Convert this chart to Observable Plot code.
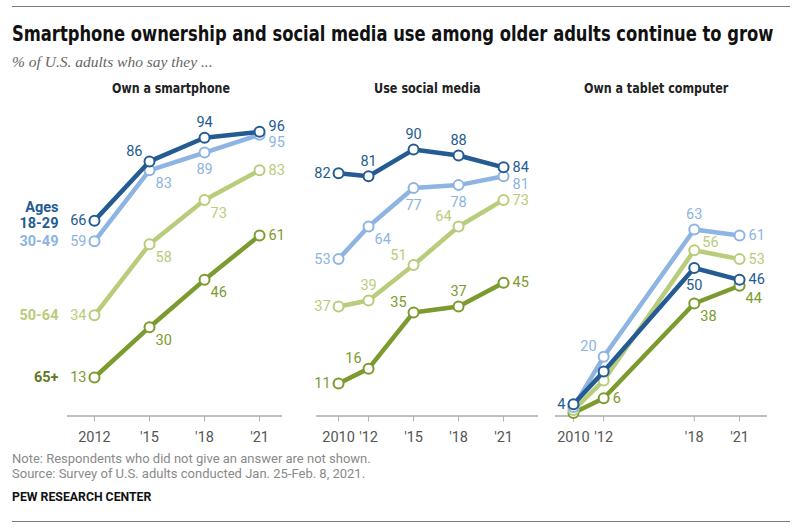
<!DOCTYPE html>
<html><head><meta charset="utf-8">
<script src="https://cdn.jsdelivr.net/npm/d3@7"></script>
<script src="https://cdn.jsdelivr.net/npm/@observablehq/plot@0.6"></script>
<style>
body{margin:0;background:#fff;}
#root{position:relative;width:800px;height:531px;overflow:hidden;font-family:Roboto,"Liberation Sans",sans-serif;background:#fff;}
.abs{position:absolute;white-space:nowrap;line-height:1;transform-origin:0 0;}
.cond{font-family:"DejaVu Sans Condensed",Roboto,sans-serif;font-weight:bold;}
.rule{position:absolute;left:12px;width:778px;height:0;border-top:1.5px solid #7a7a7a;}
.plotbox{position:absolute;top:100px;}
</style></head><body><div id="root">
<div class="rule" style="top:6px"></div>
<div class="abs cond" id="title" style="left:12px;top:24px;font-size:21px;color:#111">Smartphone ownership and social media use among older adults continue to grow</div>
<div class="abs" style="left:12px;top:54px;font-size:15.5px;color:#666;font-style:italic;font-family:'Liberation Serif','DejaVu Serif',serif">% of U.S. adults who say they ...</div>
<div class="abs cond" id="t1" style="top:81px;font-size:14.5px;color:#222">Own a smartphone</div>
<div class="abs cond" id="t2" style="top:81px;font-size:14.5px;color:#222">Use social media</div>
<div class="abs cond" id="t3" style="top:81px;font-size:14.5px;color:#222">Own a tablet computer</div>
<div id="p1" class="plotbox" style="left:0px"></div>
<div id="p2" class="plotbox" style="left:290px"></div>
<div id="p3" class="plotbox" style="left:550px"></div>
<div class="abs" style="left:12px;top:452px;font-size:13px;color:#8a8a8a">Note: Respondents who did not give an answer are not shown.</div>
<div class="abs" style="left:12px;top:467px;font-size:13px;color:#8a8a8a">Source: Survey of U.S. adults conducted Jan. 25-Feb. 8, 2021.</div>
<div class="abs" id="pew" style="left:12px;top:491px;font-size:12px;font-weight:bold;color:#111">PEW RESEARCH CENTER</div>
<div class="rule" style="top:521px"></div>
</div>
<script>
// ---- data ----
const ages = ["18-29", "30-49", "50-64", "65+"];
const ageColors = ["#245b93", "#8db4e2", "#b8cd7a", "#7b9b2e"];
const legendColors = ["#245b93", "#8db4e2", "#b8cd7a", "#5f7a20"];

const smartphoneYears = [2012, 2015, 2018, 2021];
const smartphoneTicks = ["2012", "'15", "'18", "'21"];
const smartphoneValues = [
  [66, 86, 94, 96],
  [59, 83, 89, 95],
  [34, 58, 73, 83],
  [13, 30, 46, 61]
];
const smartphoneLabelPlace = [
  ["L", "AL", "A", "RU"],
  ["L", "BR", "B", "RD"],
  ["L", "BR", "BR", "R"],
  ["L", "BR", "BR", "R"]
];

const socialYears = [2010, 2012, 2015, 2018, 2021];
const socialTicks = ["2010", "'12", "'15", "'18", "'21"];
const socialValues = [
  [82, 81, 90, 88, 84],
  [53, 64, 77, 78, 81],
  [37, 39, 51, 64, 73],
  [11, 16, 35, 37, 45]
];
const socialLabelPlace = [
  ["L", "A", "A", "A", "R"],
  ["L", "BR", "B", "B", "RD"],
  ["L", "A", "AL", "AL", "R"],
  ["L", "AL", "AL", "A", "R"]
];

const tabletYears = [2010, 2012, 2018, 2021];
const tabletTicks = ["2010", "'12", "'18", "'21"];
const tabletValues = [
  [4, 15, 50, 46],
  [3, 20, 63, 61],
  [2, 12, 56, 53],
  [1, 6, 38, 44]
];
const tabletLabelPlace = [
  ["L", "N", "B", "R"],
  ["N", "AL", "A", "R"],
  ["N", "N", "AR", "R"],
  ["N", "R", "BR", "BR"]
];

// ---- label placement styles ----
const placeStyle = {
  L:  {textAnchor: "end",    dx: -8, dy: 0},
  R:  {textAnchor: "start",  dx: 9,  dy: 0},
  RU: {textAnchor: "start",  dx: 9,  dy: -5},
  RD: {textAnchor: "start",  dx: 9,  dy: 8},
  A:  {textAnchor: "middle", dx: 0,  dy: -15},
  B:  {textAnchor: "middle", dx: 0,  dy: 17},
  AL: {textAnchor: "end",    dx: -7, dy: -10},
  AR: {textAnchor: "start",  dx: 8,  dy: -8},
  BR: {textAnchor: "start",  dx: 6,  dy: 13}
};

function buildPanel(el, years, ticks, values, places, opt) {
  const rows = [];
  ages.forEach((age, si) => years.forEach((year, i) => rows.push({age, si, year, value: values[si][i], place: places[si][i]})));
  const tickMap = new Map(years.map((y, i) => [y, ticks[i]]));
  const marks = [
    Plot.ruleY([0], {stroke: "#a8a8a8", strokeWidth: 1.3}),
    Plot.axisX({ticks: years, tickFormat: d => tickMap.get(d), tickSize: 6, tickPadding: 10, label: null,
      stroke: "#b0b0b0", fill: "#555", fontSize: 14.5})
  ];
  for (let si = ages.length - 1; si >= 0; si--) {
    const s = rows.filter(d => d.si === si);
    marks.push(Plot.line(s, {x: "year", y: "value", stroke: ageColors[si], strokeWidth: 4.5, strokeLinejoin: "round", strokeLinecap: "round"}));
    marks.push(Plot.dot(s, {x: "year", y: "value", r: 5, fill: "white", stroke: ageColors[si], strokeWidth: 2}));
  }
  for (let si = 0; si < ages.length; si++) {
    for (const code of Object.keys(placeStyle)) {
      const s = rows.filter(d => d.si === si && d.place === code);
      if (!s.length) continue;
      marks.push(Plot.text(s, {x: "year", y: "value", text: d => String(d.value), fill: ageColors[si],
        fontSize: 14.5, ...placeStyle[code]}));
    }
  }
  if (opt.legend) {
    const first = rows.filter(d => d.year === years[0]);
    first.forEach(d => {
      marks.push(Plot.text([d], {x: "year", y: "value", text: "age", fill: legendColors[d.si],
        fontWeight: "bold", fontSize: 14.5, textAnchor: "end", dx: -36, dy: d.si === 0 ? 3 : 0}));
    });
    marks.push(Plot.text(first.filter(d => d.si === 0), {x: "year", y: "value", text: () => "Ages",
      fill: legendColors[0], fontWeight: "bold", fontSize: 14.5, textAnchor: "end", dx: -36, dy: -13}));
  }
  const svg = Plot.plot({
    width: opt.width, height: 350,
    marginLeft: opt.ml, marginRight: opt.mr, marginTop: 19.5, marginBottom: 34.5,
    x: {domain: opt.xdomain, label: null},
    y: {domain: [0, 100], axis: null},
    style: {fontFamily: "Roboto, sans-serif", overflow: "visible", background: "transparent"},
    marks
  });
  document.getElementById(el).appendChild(svg);
}

buildPanel("p1", smartphoneYears, smartphoneTicks, smartphoneValues, smartphoneLabelPlace,
  {width: 290, ml: 67, mr: 8, xdomain: [2010.53, 2022.25], legend: true});
buildPanel("p2", socialYears, socialTicks, socialValues, socialLabelPlace,
  {width: 260, ml: 26, mr: 12, xdomain: [2008.53, 2023.33]});
buildPanel("p3", tabletYears, tabletTicks, tabletValues, tabletLabelPlace,
  {width: 250, ml: 5, mr: 33, xdomain: [2008.81, 2022.85]});

// fit condensed texts to the reference widths
function fit(id, target) {
  const e = document.getElementById(id);
  const w = e.offsetWidth;
  e.style.transform = "scaleX(" + (target / w) + ")";
}
fit("title", 761);
fit("pew", 139);
const centers = {t1: [171, 118], t2: [427, 107], t3: [656, 144]};
for (const id in centers) {
  const [c, w] = centers[id];
  fit(id, w);
  document.getElementById(id).style.left = (c - w / 2) + "px";
}
</script>
</body></html>
